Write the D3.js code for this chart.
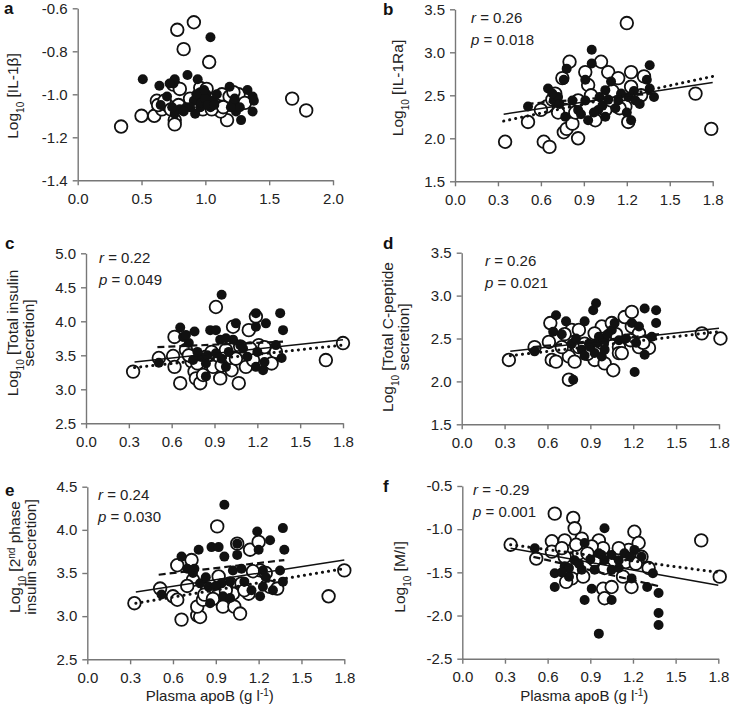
<!DOCTYPE html>
<html>
<head>
<meta charset="utf-8">
<script src="https://cdnjs.cloudflare.com/ajax/libs/d3/7.8.5/d3.min.js"></script>
<style>
  body { margin: 0; background: #fff; }
  svg text { font-family: "Liberation Sans", Arial, Helvetica, sans-serif; }
</style>
</head>
<body>
<svg id="chart" width="730" height="713"></svg>
<script>
// ---- data: [apoB, log10 value] pairs, open / filled groups ----
var aOpen = [[0.34,-1.15],[0.50,-1.10],[0.60,-1.10],[0.62,-1.03],[0.66,-1.07],[0.76,-1.12],[0.76,-1.14],
  [0.75,-0.955],[0.80,-0.975],[0.78,-0.70],[0.91,-0.665],[0.83,-0.79],[1.03,-0.85],[0.96,-0.97],
  [1.01,-0.975],[0.98,-1.07],[1.09,-1.06],[1.13,-1.00],[1.17,-1.12],[1.19,-1.01],[1.26,-1.00],
  [1.31,-1.04],[1.68,-1.02],[1.79,-1.075],[0.70,-1.05],[0.88,-1.02],[1.12,-1.08],[0.63,-1.05],
  [0.68,-1.03],[0.73,-1.07],[0.79,-1.05],[1.05,-1.07],[1.14,-1.06],[1.22,-0.99],[0.95,-1.05]];
var aFilled = [[0.51,-0.93],[0.64,-0.96],[0.70,-1.01],[0.75,-0.95],[0.76,-0.93],[0.86,-0.91],[0.94,-0.93],
  [1.04,-0.735],[1.19,-0.965],[1.33,-0.98],[1.37,-1.01],[1.38,-1.03],[1.37,-1.08],[1.28,-1.12],
  [1.24,-1.08],[1.22,-1.04],[1.27,-1.06],[0.92,-1.09],[0.96,-1.06],[1.04,-1.06],[1.06,-1.03],
  [1.01,-1.00],[0.96,-0.99],[0.98,-1.02],[0.85,-1.06],[0.80,-1.07],[0.76,-1.09],[0.74,-1.06],
  [0.65,-1.05],[1.09,-1.00],[0.91,-1.03],[0.93,-1.00],[0.97,-1.04],[1.00,-1.02],[1.02,-1.05],
  [0.99,-0.98],[0.88,-1.06],[0.83,-1.08],[1.07,-1.05],[1.20,-1.06],[1.23,-1.02],[0.72,-0.95]];

var bOpen = [[0.35,1.96],[0.51,2.19],[0.62,1.96],[0.66,1.90],[0.64,2.37],[0.76,2.07],[0.78,2.11],
  [0.86,2.00],[0.80,2.89],[0.75,2.70],[0.91,2.77],[1.02,2.89],[1.07,2.77],[1.14,2.70],[1.20,3.34],
  [1.23,2.77],[1.23,2.60],[1.21,2.19],[1.32,2.72],[1.68,2.52],[1.79,2.11],[0.93,2.62],[1.00,2.29],
  [1.05,2.33],[1.19,2.37],[0.77,2.33],[0.82,2.17],[0.70,2.52],[0.86,2.44],[1.09,2.44],[0.98,2.21],
  [0.72,2.30],[0.84,2.30],[0.95,2.50],[1.10,2.55],[1.15,2.35],[1.30,2.50],[0.60,2.33],[0.68,2.45]];
var bFilled = [[0.51,2.37],[0.65,2.58],[0.69,2.44],[0.76,2.68],[0.78,2.81],[0.82,2.44],[0.86,2.33],
  [0.91,2.44],[0.955,3.03],[0.955,2.87],[0.91,2.68],[0.93,2.21],[1.00,2.33],[1.05,2.25],[1.05,2.56],
  [1.09,2.66],[1.01,2.48],[1.14,2.44],[1.21,2.48],[1.23,2.21],[1.26,2.44],[1.29,2.40],[1.36,2.85],
  [1.34,2.68],[1.36,2.58],[1.39,2.48],[0.77,2.25],[0.72,2.48],[1.16,2.52],
  [0.97,2.30],[1.03,2.38],[1.07,2.45],[0.88,2.28],[1.12,2.35],[1.20,2.30],[1.25,2.55],[0.68,2.52],[0.73,2.40]];

var cOpen = [[0.33,3.26],[0.51,3.46],[0.61,3.49],[0.62,3.33],[0.62,3.77],[0.66,3.09],[0.74,3.41],
  [0.76,3.26],[0.77,3.16],[0.80,3.09],[0.82,3.21],[0.91,4.21],[0.94,3.16],[1.02,3.28],[1.07,3.09],
  [1.12,3.33],[1.14,3.87],[1.19,4.07],[1.21,3.65],[1.33,3.55],[1.30,3.38],[1.68,3.43],[1.80,3.68],
  [0.70,3.58],[0.84,3.48],[0.98,3.58],[1.03,3.92],[1.08,3.63],[1.17,3.43],[0.89,3.33],
  [0.72,3.50],[0.78,3.38],[0.88,3.55],[1.05,3.45],[1.15,3.60],[1.25,3.62],[0.95,3.35]];
var cFilled = [[0.51,3.39],[0.66,3.91],[0.68,3.77],[0.76,3.85],[0.72,3.68],[0.80,3.48],[0.84,3.38],
  [0.87,3.87],[0.91,3.87],[0.95,4.39],[0.94,3.73],[0.98,3.33],[1.03,3.73],[1.05,3.97],[1.08,3.65],
  [1.19,3.92],[1.19,4.12],[1.26,3.97],[1.36,4.12],[1.38,3.87],[1.37,3.46],[1.33,3.65],[1.24,3.28],
  [1.19,3.33],[0.84,3.19],[0.75,3.43],[0.91,3.53],[1.13,3.48],
  [0.78,3.55],[0.85,3.50],[0.95,3.45],[1.00,3.55],[1.10,3.60],[1.20,3.55],[1.25,3.40],[0.70,3.80],[0.98,3.75]];

var dOpen = [[0.33,2.25],[0.51,2.40],[0.62,2.68],[0.63,2.25],[0.66,2.23],[0.61,2.46],[0.75,2.29],
  [0.79,2.23],[0.77,2.60],[0.82,2.40],[0.93,2.25],[1.00,2.21],[0.98,2.64],[1.05,2.68],[1.06,2.13],
  [1.10,2.40],[1.14,2.75],[1.19,2.81],[1.19,2.64],[1.24,2.40],[1.31,2.39],[1.68,2.56],[1.81,2.50],
  [0.86,2.44],[0.96,2.37],[1.10,2.33],[0.82,2.60],[0.93,2.56],[1.24,2.56],[1.12,2.33],[0.75,2.02],
  [0.70,2.40],[0.88,2.32],[0.98,2.45],[1.08,2.55],[1.18,2.48],[1.27,2.45],[0.72,2.55]];
var dFilled = [[0.51,2.35],[0.66,2.77],[0.64,2.58],[0.73,2.70],[0.78,2.02],[0.77,2.44],[0.86,2.70],
  [0.92,2.83],[0.94,2.91],[0.89,2.44],[0.93,2.33],[0.98,2.29],[1.00,2.48],[1.05,2.60],[1.07,2.68],
  [1.00,2.37],[1.21,2.11],[1.19,2.68],[1.24,2.64],[1.28,2.85],[1.36,2.83],[1.36,2.68],[1.33,2.52],
  [1.28,2.31],[0.96,2.52],[0.84,2.37],[1.10,2.48],
  [0.90,2.40],[0.95,2.45],[1.02,2.55],[0.86,2.30],[1.15,2.50],[1.22,2.45],[0.70,2.55],[0.80,2.50]];

var eOpen = [[0.33,3.15],[0.51,3.32],[0.60,3.23],[0.63,3.19],[0.63,3.59],[0.66,2.96],[0.73,3.65],
  [0.74,3.42],[0.77,3.01],[0.79,2.99],[0.77,3.11],[0.81,3.19],[0.91,4.04],[0.92,3.46],[0.95,3.11],
  [1.00,3.38],[1.03,3.11],[1.07,3.03],[1.08,3.38],[1.13,3.26],[1.14,3.77],[1.20,3.86],[1.21,3.53],
  [1.28,3.34],[1.33,3.32],[1.69,3.23],[1.80,3.53],[1.05,3.84],[0.84,3.32],[1.02,3.26],[1.16,3.52],
  [0.70,3.35],[0.82,3.25],[0.97,3.30],[1.10,3.30],[1.25,3.50],[0.88,3.20]];
var eFilled = [[0.52,3.25],[0.66,3.69],[0.70,3.55],[0.78,3.77],[0.74,3.50],[0.79,3.38],[0.85,3.34],
  [0.86,3.15],[0.87,3.80],[0.92,3.80],[0.96,4.29],[0.96,3.69],[0.94,3.38],[0.95,3.23],[1.00,3.21],
  [1.05,3.84],[1.05,3.71],[1.02,3.53],[1.08,3.55],[1.19,3.98],[1.20,3.77],[1.23,3.53],[1.23,3.34],
  [1.21,3.23],[1.28,3.88],[1.30,3.30],[1.37,4.02],[1.38,3.77],[1.35,3.53],[1.37,3.40],
  [0.75,3.55],[0.90,3.35],[1.00,3.40],[1.10,3.40],[0.83,3.45],[1.15,3.30],[1.25,3.45]];

var fOpen = [[0.34,-1.18],[0.52,-1.34],[0.65,-0.82],[0.63,-1.14],[0.63,-1.26],[0.72,-1.13],[0.78,-0.87],
  [0.79,-0.99],[0.77,-1.57],[0.73,-1.61],[0.84,-1.11],[0.82,-1.28],[0.96,-1.13],[0.99,-1.22],
  [0.99,-1.69],[1.00,-1.80],[1.05,-1.67],[1.13,-1.55],[1.17,-1.24],[1.21,-1.03],[1.24,-1.16],
  [1.19,-1.67],[1.31,-1.45],[1.68,-1.13],[1.81,-1.55],[0.93,-1.36],[1.05,-1.38],[1.10,-1.22],
  [0.72,-1.32],[0.91,-1.20],[1.26,-1.32],
  [0.70,-1.22],[0.80,-1.18],[0.88,-1.28],[1.00,-1.45],[1.15,-1.38],[1.22,-1.40],[0.85,-1.55]];
var fFilled = [[0.51,-1.22],[0.65,-1.51],[0.65,-1.67],[0.72,-1.43],[0.79,-1.36],[0.86,-1.16],[0.91,-1.69],
  [0.86,-1.82],[0.96,-2.21],[1.00,-0.99],[0.96,-1.28],[0.93,-1.47],[1.05,-1.47],[1.05,-1.82],
  [1.00,-1.36],[1.10,-1.36],[1.19,-1.57],[1.21,-1.24],[1.26,-1.32],[1.30,-1.67],[1.34,-1.51],
  [1.38,-1.74],[1.38,-1.97],[1.38,-2.11],[0.84,-1.47],[0.75,-1.55],[1.14,-1.28],
  [0.75,-1.45],[0.82,-1.40],[0.90,-1.35],[0.98,-1.30],[1.05,-1.30],[1.10,-1.45],[1.18,-1.32],[0.70,-1.50]];

// regression lines: [[x1,y1],[x2,y2]] for all (solid), open (dotted), filled (dashed)
var bSolid = [[0.34,2.28],[1.80,2.65]], bDotted = [[0.34,2.20],[1.80,2.72]], bDashed = [[0.50,2.40],[1.38,2.52]];
var cSolid = [[0.34,3.40],[1.80,3.73]], cDotted = [[0.34,3.32],[1.80,3.65]], cDashed = [[0.50,3.62],[1.38,3.70]];
var dSolid = [[0.34,2.35],[1.80,2.62]], dDotted = [[0.34,2.30],[1.80,2.58]], dDashed = [[0.50,2.40],[1.38,2.55]];
var eSolid = [[0.34,3.28],[1.80,3.65]], eDotted = [[0.34,3.15],[1.80,3.55]], eDashed = [[0.50,3.48],[1.38,3.65]];
var fSolid = [[0.34,-1.22],[1.80,-1.65]], fDotted = [[0.34,-1.18],[1.80,-1.50]], fDashed = [[0.50,-1.32],[1.38,-1.66]];

var stats = { b: ['0.26','0.018'], c: ['0.22','0.049'], d: ['0.26','0.021'], e: ['0.24','0.030'], f: ['-0.29','0.001'] };

var ticks18 = [0, 0.3, 0.6, 0.9, 1.2, 1.5, 1.8];

var panels = [
  { id:'a', left:77.7, right:333, top:8.3, bottom:180.3, xMax:2.0, xTicks:[0,0.5,1,1.5,2],
    yDom:[-1.4,-0.6], yTicks:[-1.4,-1.2,-1.0,-0.8,-0.6], open:aOpen, filled:aFilled,
    title:[['Log','10',' [IL-1β]']], tx:18, ty:96, lx:4, ly:14 },
  { id:'b', left:455, right:712.7, top:9.3, bottom:181.3, xMax:1.8, xTicks:ticks18,
    yDom:[1.5,3.5], yTicks:[1.5,2,2.5,3,3.5], open:bOpen, filled:bFilled,
    lines:[bSolid,bDotted,bDashed], title:[['Log','10',' [IL-1Ra]']], tx:403, ty:88, lx:383, ly:15, sx:471, sy:23 },
  { id:'c', left:86, right:343, top:253.3, bottom:423.3, xMax:1.8, xTicks:ticks18,
    yDom:[2.5,5.0], yTicks:[2.5,3,3.5,4,4.5,5], open:cOpen, filled:cFilled,
    lines:[cSolid,cDotted,cDashed], title:[['Log','10',' [Total insulin'],['','','secretion]']],
    tx:18, ty:333, lx:5, ly:249, sx:99, sy:263 },
  { id:'d', left:461.7, right:719, top:252.7, bottom:424.3, xMax:1.8, xTicks:ticks18,
    yDom:[1.5,3.5], yTicks:[1.5,2,2.5,3,3.5], open:dOpen, filled:dFilled,
    lines:[dSolid,dDotted,dDashed], title:[['Log','10',' [Total C-peptide'],['','','secretion]']],
    tx:393, ty:337, lx:383, ly:249, sx:485, sy:266 },
  { id:'e', left:87.3, right:344.3, top:486.7, bottom:659.3, xMax:1.8, xTicks:ticks18,
    yDom:[2.5,4.5], yTicks:[2.5,3,3.5,4,4.5], open:eOpen, filled:eFilled,
    lines:[eSolid,eDotted,eDashed], title:[['Log','10',' [2','nd',' phase'],['','','insulin secretion]']],
    tx:20, ty:557, lx:5, ly:496, sx:98, sy:500, xlabel:true },
  { id:'f', left:462.3, right:718.3, top:486, bottom:658.7, xMax:1.8, xTicks:ticks18,
    yDom:[-2.5,-0.5], yTicks:[-2.5,-2,-1.5,-1,-0.5], open:fOpen, filled:fFilled,
    lines:[fSolid,fDotted,fDashed], title:[['Log','10',' [M/I]']], tx:405, ty:577, lx:383, ly:492, sx:473, sy:495, xlabel:true }
];

var svg = d3.select('#chart');
var fmt = function(d){ return d.toFixed(1); };

panels.forEach(function(p){
  var x = d3.scaleLinear().domain([0, p.xMax]).range([p.left, p.right]);
  var y = d3.scaleLinear().domain(p.yDom).range([p.bottom, p.top]);
  var g = svg.append('g').attr('class', 'panel-' + p.id);

  var xa = g.append('g').attr('transform', 'translate(0,' + p.bottom + ')')
    .call(d3.axisBottom(x).tickValues(p.xTicks).tickSize(5).tickSizeOuter(0).tickPadding(8).tickFormat(fmt));
  var ya = g.append('g').attr('transform', 'translate(' + p.left + ',0)')
    .call(d3.axisLeft(y).tickValues(p.yTicks).tickSize(5).tickSizeOuter(0).tickPadding(5).tickFormat(fmt));
  [xa, ya].forEach(function(a){
    a.select('.domain').attr('stroke', '#777').attr('stroke-width', 1.4);
    a.selectAll('.tick line').attr('stroke', '#777').attr('stroke-width', 1.4);
    a.selectAll('.tick text').attr('fill', '#222').style('font-size', '15px')
      .style('font-family', '"Liberation Sans", Arial, sans-serif');
  });

  // open circles under filled ones
  g.selectAll('circle.open').data(p.open).enter().append('circle')
    .attr('class', 'open')
    .attr('cx', function(d){ return x(d[0]); })
    .attr('cy', function(d){ return y(d[1]); })
    .attr('r', 6.3)
    .attr('fill', '#fff').attr('stroke', '#111').attr('stroke-width', 1.8);

  g.selectAll('circle.filled').data(p.filled).enter().append('circle')
    .attr('class', 'filled')
    .attr('cx', function(d){ return x(d[0]); })
    .attr('cy', function(d){ return y(d[1]); })
    .attr('r', 5)
    .attr('fill', '#111');

  if (p.lines) {
    var styles = [
      { w: 1.5, dash: null, cap: 'butt' },
      { w: 3, dash: '0.1,6', cap: 'round' },
      { w: 2.2, dash: '7,4', cap: 'butt' }
    ];
    p.lines.forEach(function(l, i){
      g.append('line')
        .attr('x1', x(l[0][0])).attr('y1', y(l[0][1]))
        .attr('x2', x(l[1][0])).attr('y2', y(l[1][1]))
        .attr('stroke', '#111').attr('stroke-width', styles[i].w)
        .attr('stroke-dasharray', styles[i].dash)
        .attr('stroke-linecap', styles[i].cap);
    });
  }

  // panel letter
  g.append('text').attr('x', p.lx).attr('y', p.ly).text(p.id)
    .style('font-size', '17px').style('font-weight', 'bold').attr('fill', '#111');

  // y title, rotated
  var t = g.append('text')
    .attr('transform', 'translate(' + p.tx + ',' + p.ty + ') rotate(-90)')
    .attr('text-anchor', 'middle').attr('fill', '#222').style('font-size', '15.5px');
  p.title.forEach(function(line, li){
    var first = true;
    line.forEach(function(part, k){
      if (part === '') return;
      var ts = t.append('tspan').text(part);
      if (first) { ts.attr('x', 0).attr('dy', li === 0 ? 0 : 15.5); first = false; }
      if (k === 1) ts.attr('baseline-shift', 'sub').style('font-size', '10px');
      if (k === 3) ts.attr('baseline-shift', 'super').style('font-size', '10px');
    });
  });

  // r and p
  if (stats[p.id]) {
    var s = stats[p.id];
    var r = g.append('text').attr('x', p.sx).attr('y', p.sy).attr('fill', '#222').style('font-size', '15px');
    r.append('tspan').text('r').style('font-style', 'italic');
    r.append('tspan').text(' = ' + s[0]);
    var q = g.append('text').attr('x', p.sx).attr('y', p.sy + 22).attr('fill', '#222').style('font-size', '15px');
    q.append('tspan').text('p').style('font-style', 'italic');
    q.append('tspan').text(' = ' + s[1]);
  }

  if (p.xlabel) {
    var xl = g.append('text').attr('x', (p.left + p.right) / 2 - 6).attr('y', 701)
      .attr('text-anchor', 'middle').attr('fill', '#222').style('font-size', '15px');
    xl.append('tspan').text('Plasma apoB (g l');
    xl.append('tspan').text('-1').attr('baseline-shift', 'super').style('font-size', '10px');
    xl.append('tspan').text(')');
  }
});
</script>
</body>
</html>
